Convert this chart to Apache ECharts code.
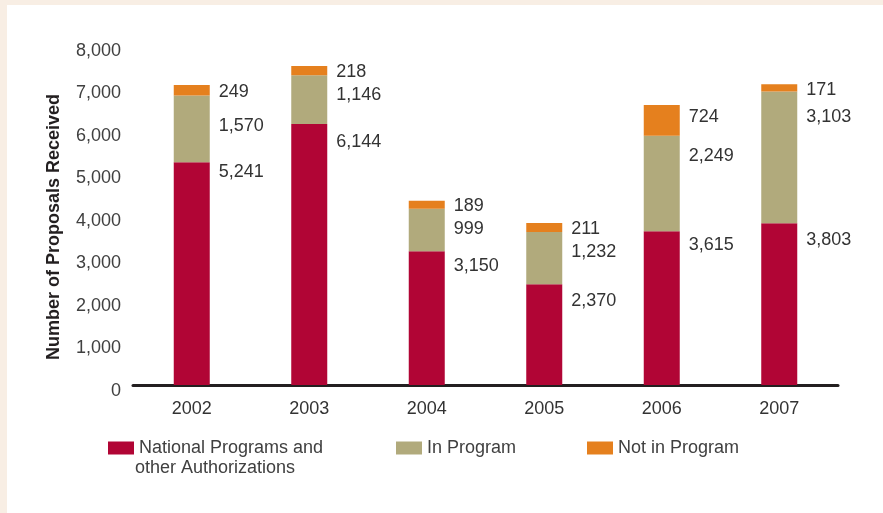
<!DOCTYPE html>
<html lang="en">
<head>
    <meta charset="utf-8">
    <title>Number of Proposals Received</title>
    <script src="https://cdn.jsdelivr.net/npm/echarts@6/dist/echarts.min.js"></script>
    <style>
        html, body { margin: 0; padding: 0; background: #f8eee4; }
        #panel { position: absolute; left: 7px; top: 5px; right: 0; bottom: 0; background: #ffffff; }
        #main { position: absolute; left: 0; top: 0; width: 883px; height: 513px; }
    </style>
</head>
<body>
<div id="panel"></div>
<div id="main"></div>
<script type="text/javascript">
    // data
    var years = ['2002', '2003', '2004', '2005', '2006', '2007'];
    var nationalPrograms = [5241, 6144, 3150, 2370, 3615, 3803];
    var inProgram = [1570, 1146, 999, 1232, 2249, 3103];
    var notInProgram = [249, 218, 189, 211, 724, 171];

    // small hand nudges for the value labels (px, downwards)
    var nationalNudge = [-3, 5, 2, 4, 1, 4];
    var inProgramNudge = [10, 0, 0, 0, 0, 6];
    var notInNudge = [3, 2, 1, 2, 8, 2];

    var fontName = '"Liberation Sans", Arial, sans-serif';

    function fmt(v) {
        return String(v).replace(/\B(?=(\d{3})+(?!\d))/g, ',');
    }

    // value label sits just right of the bar, near the top of each segment
    function withLabels(values, dy, nudge) {
        return values.map(function (v, i) {
            return {
                value: v,
                label: {
                    show: true,
                    position: ['100%', 0],
                    offset: [9, dy + nudge[i]],
                    align: 'left',
                    verticalAlign: 'middle',
                    color: '#333333',
                    fontSize: 18,
                    fontFamily: fontName,
                    formatter: function (p) { return fmt(p.value); }
                }
            };
        });
    }

    function legendBox(name, left, text) {
        return {
            data: [name],
            left: left,
            top: 434,
            orient: 'horizontal',
            itemWidth: 26,
            itemHeight: 13,
            itemGap: 6,
            icon: 'rect',
            selectedMode: false,
            formatter: function () { return text; },
            textStyle: {color: '#404040', fontSize: 18, fontFamily: fontName}
        };
    }

    var myChart = echarts.init(document.getElementById('main'), null, {renderer: 'canvas'});
    var option = {
        animation: false,
        backgroundColor: 'transparent',
        grid: {left: 133, right: 45, top: 45, bottom: 128},
        legend: [
            legendBox('National Programs and other Authorizations', 103, 'National Programs and'),
            legendBox('In Program', 391, 'In Program'),
            legendBox('Not in Program', 582, 'Not in Program')
        ],
        // second line of the first legend entry
        graphic: [{
            type: 'text',
            left: 135,
            top: 459,
            style: {text: 'other Authorizations', fill: '#404040', fontSize: 18, fontFamily: fontName}
        }],
        xAxis: {
            type: 'category',
            data: years,
            axisLine: {show: true, lineStyle: {color: '#231f20', width: 3}},
            axisTick: {show: false},
            axisLabel: {color: '#333333', fontSize: 18, fontFamily: fontName, margin: 15}
        },
        yAxis: {
            type: 'value',
            min: 0,
            max: 8000,
            interval: 1000,
            name: 'Number of Proposals Received',
            nameLocation: 'middle',
            nameGap: 70,
            nameTextStyle: {
                color: '#231f20', fontSize: 18, fontWeight: 'bold', fontFamily: fontName,
                padding: [0, 24, 0, 0]
            },
            axisLine: {show: false},
            axisTick: {show: false},
            splitLine: {show: false},
            axisLabel: {
                color: '#404040',
                fontSize: 18,
                fontFamily: fontName,
                margin: 12,
                verticalAlign: 'top',
                lineHeight: 12,
                formatter: function (v) { return fmt(v); }
            }
        },
        series: [
            {
                name: 'National Programs and other Authorizations',
                type: 'bar',
                stack: 'total',
                barWidth: 36,
                itemStyle: {color: '#b10535'},
                data: withLabels(nationalPrograms, 13, nationalNudge)
            },
            {
                name: 'In Program',
                type: 'bar',
                stack: 'total',
                barWidth: 36,
                itemStyle: {color: '#b1aa7c'},
                data: withLabels(inProgram, 20, inProgramNudge)
            },
            {
                name: 'Not in Program',
                type: 'bar',
                stack: 'total',
                barWidth: 36,
                itemStyle: {color: '#e5801e'},
                data: withLabels(notInProgram, 4, notInNudge)
            }
        ]
    };
    myChart.setOption(option);
</script>
</body>
</html>
